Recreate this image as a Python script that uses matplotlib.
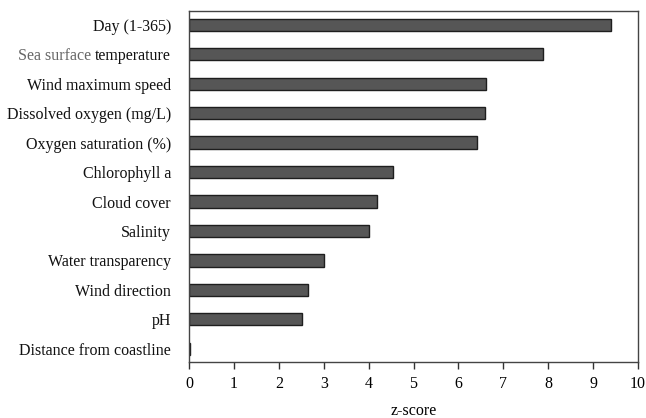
import matplotlib
matplotlib.use("Agg")
import matplotlib.pyplot as plt

# Variables ordered top to bottom, as in the figure
variables = [
    "Day (1-365)",
    "Sea surface temperature",
    "Wind maximum speed",
    "Dissolved oxygen (mg/L)",
    "Oxygen saturation (%)",
    "Chlorophyll a",
    "Cloud cover",
    "Salinity",
    "Water transparency",
    "Wind direction",
    "pH",
    "Distance from coastline",
]
z_scores = [9.40, 7.88, 6.61, 6.59, 6.41, 4.54, 4.18, 4.00, 3.00, 2.65, 2.52, 0.02]
x_ticks = list(range(0, 11))

plt.rcParams["font.family"] = ["Liberation Serif", "DejaVu Serif"]

fig = plt.figure(figsize=(6.46, 4.18), dpi=100)
ax = fig.add_axes([0.2926, 0.134, 0.695, 0.8397])

n = len(variables)
ypos = list(range(n - 1, -1, -1))
ax.barh(ypos, z_scores, height=0.42, color="#565656", edgecolor="#1e1e1e",
        linewidth=1.0)

ax.set_xlim(0, 10)
ax.set_ylim(-0.45, n - 1 + 0.47)
ax.set_xticks(x_ticks)
ax.set_xticklabels([str(t) for t in x_ticks], fontsize=11.5)
ax.tick_params(axis="x", direction="out", length=5, width=1, color="#333333", pad=5)
ax.tick_params(axis="y", length=0, pad=13)

labels = list(variables)
labels[1] = "temperature"
ax.set_yticks(ypos)
ax.set_yticklabels(labels, fontsize=11.5, color="#111111")

for sp in ax.spines.values():
    sp.set_color("#444444")
    sp.set_linewidth(1.0)

ax.set_xlabel("z-score", fontsize=11.5, labelpad=8)

# "Sea surface" is drawn lighter in the original
fig.canvas.draw()
renderer = fig.canvas.get_renderer()
tl = ax.get_yticklabels()[1]
bb = tl.get_window_extent(renderer)
fig.text(bb.x0 / fig.bbox.width, (bb.y0 + bb.y1) / 2 / fig.bbox.height,
         "Sea surface ", ha="right", va="center", fontsize=11.5, color="#666666")

fig.savefig("out.png", dpi=100)
